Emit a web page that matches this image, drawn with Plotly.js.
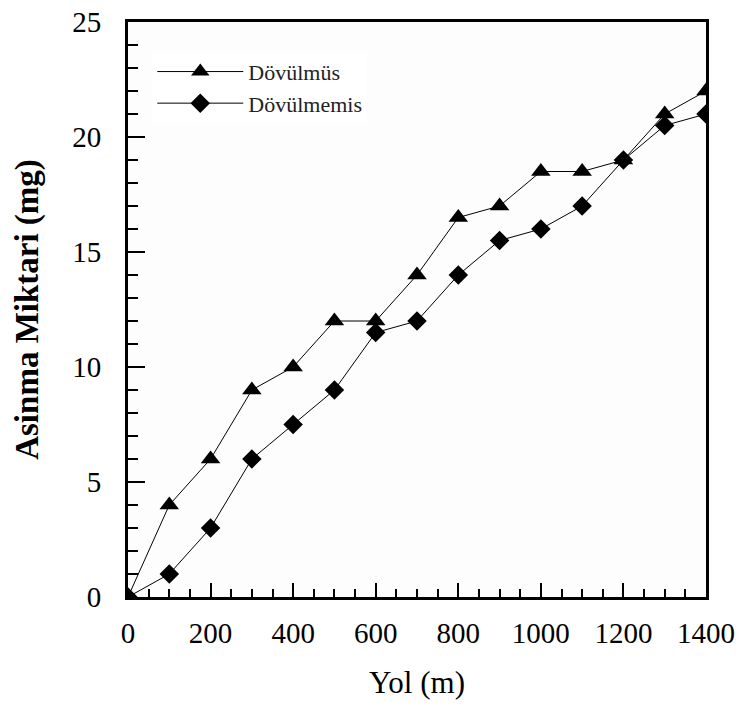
<!DOCTYPE html>
<html>
<head>
<meta charset="utf-8">
<script src="https://cdn.plot.ly/plotly-3.0.1.min.js"></script>
<style>html,body{margin:0;padding:0;background:#fff;}#chart{width:740px;height:713px;}</style>
</head>
<body>
<div id="chart"></div>
<script>
const distance = [0, 100, 200, 300, 400, 500, 600, 700, 800, 900, 1000, 1100, 1200, 1300, 1400];
const dovulmus = [0, 4, 6, 9, 10, 12, 12, 14, 16.5, 17, 18.5, 18.5, 19, 21, 22];
const dovulmemis = [0, 1, 3, 6, 7.5, 9, 11.5, 12, 14, 15.5, 16, 17, 19, 20.5, 21];
const seriesNames = ["Dövülmüs", "Dövülmemis"];

const serif = "Liberation Serif, Times New Roman, Times, serif";

const traces = [
  {
    x: distance, y: dovulmus, name: seriesNames[0], type: "scatter", mode: "lines+markers",
    line: {color: "#000", width: 1},
    marker: {symbol: "triangle-up", size: 17, color: "#000"}
  },
  {
    x: distance, y: dovulmemis, name: seriesNames[1], type: "scatter", mode: "lines+markers",
    line: {color: "#000", width: 1},
    marker: {symbol: "diamond", size: 15, color: "#000"}
  }
];

const layout = {
  width: 740, height: 713,
  margin: {l: 128, r: 34, t: 22, b: 116},
  paper_bgcolor: "#fff",
  plot_bgcolor: "#fdfdfd",
  showlegend: true,
  legend: {
    x: 0.042, y: 0.95, xanchor: "left", yanchor: "top",
    bgcolor: "#fff", borderwidth: 0,
    font: {family: serif, size: 22, color: "#222"},
    itemwidth: 86, tracegroupgap: 0
  },
  xaxis: {
    range: [0, 1400], tickmode: "linear", tick0: 0, dtick: 200,
    ticks: "inside", ticklen: 14, tickwidth: 2, tickcolor: "#000",
    minor: {dtick: 50, ticks: "inside", ticklen: 8, tickwidth: 2, tickcolor: "#000", showgrid: false},
    showline: true, linewidth: 3, linecolor: "#000", mirror: true,
    showgrid: false, zeroline: false, ticklabelstandoff: 8,
    tickfont: {family: serif, size: 29, color: "#000"},
    title: {text: "Yol (m)", font: {family: serif, size: 31, color: "#000"}, standoff: 24}
  },
  yaxis: {
    range: [0, 25], tickmode: "linear", tick0: 0, dtick: 5,
    ticks: "inside", ticklen: 17, tickwidth: 2, tickcolor: "#000",
    minor: {dtick: 1, ticks: "inside", ticklen: 10, tickwidth: 2, tickcolor: "#000", showgrid: false},
    showline: true, linewidth: 3, linecolor: "#000", mirror: true,
    showgrid: false, zeroline: false, ticklabelstandoff: 18,
    tickfont: {family: serif, size: 29, color: "#000"},
    title: {text: "<b>Asinma Miktari (mg)</b>", font: {family: serif, size: 33, color: "#000"}, standoff: 24}
  }
};

Plotly.newPlot("chart", traces, layout, {displayModeBar: false, staticPlot: true});
</script>
</body>
</html>
